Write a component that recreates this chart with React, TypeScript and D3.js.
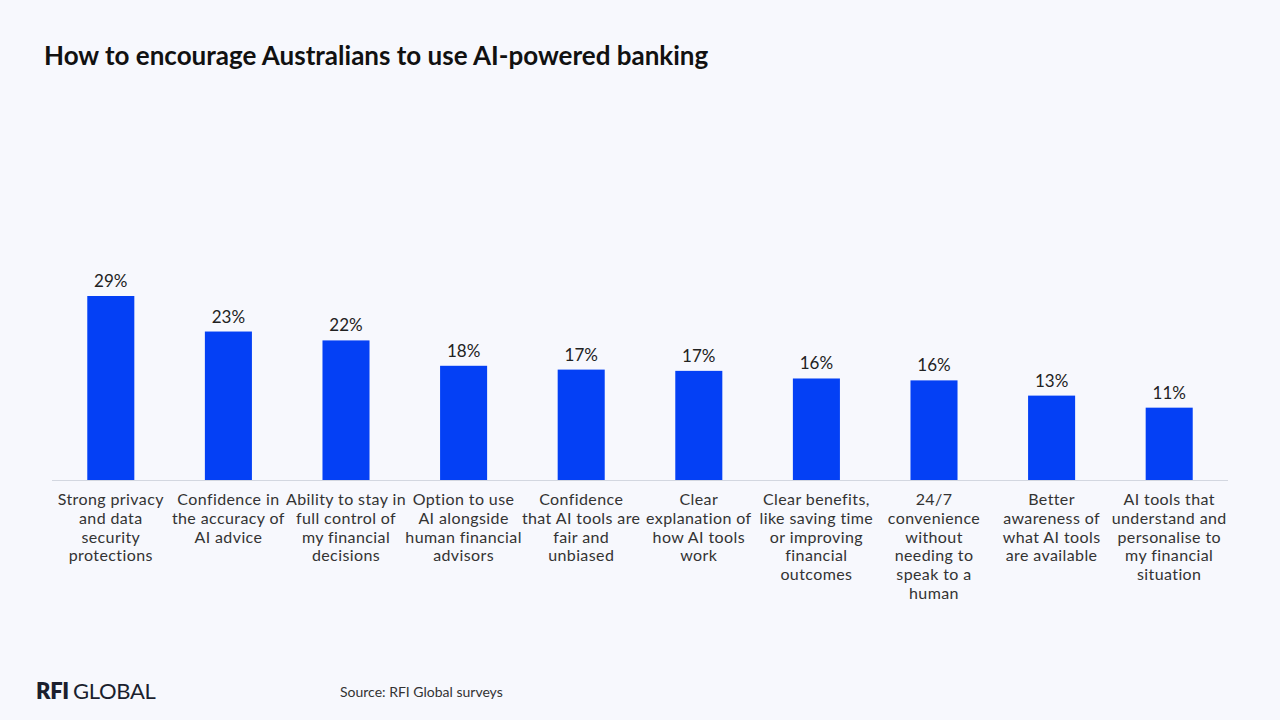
import React from 'react';
import * as d3 from 'd3';

// Chart data
const categories = [
  ['Strong privacy', 'and data', 'security', 'protections'],
  ['Confidence in', 'the accuracy of', 'AI advice'],
  ['Ability to stay in', 'full control of', 'my financial', 'decisions'],
  ['Option to use', 'AI alongside', 'human financial', 'advisors'],
  ['Confidence', 'that AI tools are', 'fair and', 'unbiased'],
  ['Clear', 'explanation of', 'how AI tools', 'work'],
  ['Clear benefits,', 'like saving time', 'or improving', 'financial', 'outcomes'],
  ['24/7', 'convenience', 'without', 'needing to', 'speak to a', 'human'],
  ['Better', 'awareness of', 'what AI tools', 'are available'],
  ['AI tools that', 'understand and', 'personalise to', 'my financial', 'situation'],
];
const values = [29.0, 23.4, 22.0, 18.0, 17.4, 17.2, 16.0, 15.7, 13.3, 11.4];
const labels = ['29%', '23%', '22%', '18%', '17%', '17%', '16%', '16%', '13%', '11%'];

const W = 1280;
const H = 720;
const FONT = 'Lato, "Open Sans", sans-serif';

export default function App() {
  const margin = { left: 52, right: 52, baseline: 480 };

  const x = d3
    .scaleBand<number>()
    .domain(values.map((_, i) => i))
    .range([margin.left, W - margin.right])
    .paddingInner(0.6)
    .paddingOuter(0.3);

  const y = d3.scaleLinear().domain([0, 29]).range([margin.baseline, 296]);

  return (
    <svg
      width={W}
      height={H}
      style={{ position: 'absolute', left: 0, top: 0, background: '#f7f8fd' }}
    >
      <rect width={W} height={H} fill="#f7f8fd" />
      <text x={44} y={65} fontFamily={FONT} fontWeight={700} fontSize={26} fill="#111">
        How to encourage Australians to use AI-powered banking
      </text>

      {/* bars */}
      {values.map((v, i) => (
        <rect
          key={'b' + i}
          x={x(i)}
          y={y(v)}
          width={x.bandwidth()}
          height={y(0) - y(v)}
          fill="#0440f5"
        />
      ))}

      {/* value labels */}
      {values.map((v, i) => (
        <text
          key={'v' + i}
          x={(x(i) ?? 0) + x.bandwidth() / 2}
          y={y(v) - 9}
          textAnchor="middle"
          fontFamily={FONT}
          fontSize={17}
          fill="#222"
        >
          {labels[i]}
        </text>
      ))}

      {/* axis line */}
      <line
        x1={margin.left}
        x2={W - margin.right}
        y1={y(0) + 0.5}
        y2={y(0) + 0.5}
        stroke="#d3d7e0"
        strokeWidth={1}
      />

      {/* category labels */}
      {categories.map((lines, i) => (
        <text
          key={'c' + i}
          x={(x(i) ?? 0) + x.bandwidth() / 2}
          y={505}
          textAnchor="middle"
          fontFamily={FONT}
          fontSize={16}
          letterSpacing={0.4}
          fill="#333"
        >
          {lines.map((l, j) => (
            <tspan key={j} x={(x(i) ?? 0) + x.bandwidth() / 2} dy={j === 0 ? 0 : 18.8}>
              {l}
            </tspan>
          ))}
        </text>
      ))}

      {/* footer */}
      <text x={36} y={699} fontFamily={FONT} fontSize={22} fill="#1b1f2e" letterSpacing={-0.3}>
        <tspan fontWeight={800}>RFI</tspan>
        <tspan dx={4}>GLOBAL</tspan>
      </text>
      <text x={340} y={697} fontFamily={FONT} fontSize={14} fill="#333">
        Source: RFI Global surveys
      </text>
    </svg>
  );
}
